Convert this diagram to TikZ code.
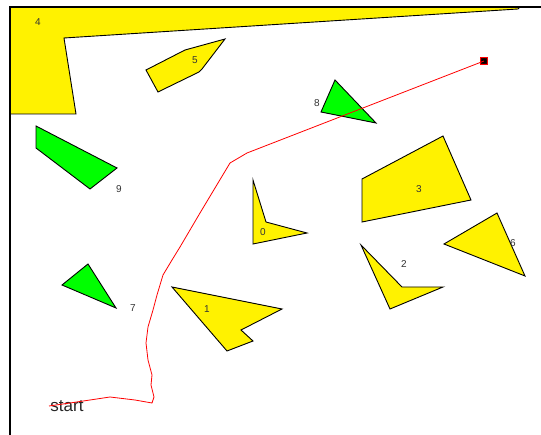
\documentclass[tikz,border=0pt]{standalone}
\usepackage{fontspec}
\setmainfont{Liberation Sans}
\begin{document}
\begin{tikzpicture}[x=1pt,y=-1pt,
  yel/.style={fill=yellow,draw=black,line width=0.9pt},
  grn/.style={fill=green,draw=black,line width=0.9pt},
  lbl/.style={font=\fontsize{10}{11}\selectfont,text=black!80,inner sep=0pt},
  route/.style={draw=red,line width=0.8pt}]
\useasboundingbox (0,0) rectangle (541,435);
\fill[white] (0,0) rectangle (541,435);
% obstacle 4 and frame
\path[yel] (10,7) -- (520,7) -- (518,9) -- (64,38) -- (76,114) -- (10,114) -- cycle;
\draw[line width=1.2pt] (541,7) -- (10,7) -- (10,435);
% obstacles
\path[yel] (146,70) -- (185,50) -- (225,39) -- (202,69) -- (199,72) -- (158,92) -- cycle;
\path[grn] (335,80) -- (321,112) -- (376,123) -- cycle;
\path[grn] (36,126) -- (36,148) -- (90,189) -- (117,168) -- cycle;
\path[yel] (253,180) -- (253,244) -- (307,233) -- (266,222) -- cycle;
\path[yel] (362,179) -- (362,222) -- (471,200) -- (443,136) -- cycle;
\path[yel] (361,245) -- (390,309) -- (443,287) -- (402,287) -- cycle;
\path[yel] (444,244) -- (525,276) -- (497,213) -- cycle;
\path[grn] (88,264) -- (62,285) -- (116,308) -- cycle;
\path[yel] (172,287) -- (227,351) -- (253,341) -- (241,330) -- (282,309) -- cycle;
% labels
\node[lbl] (l4) at (38,22) {4};
\node[lbl] (l5) at (195,60) {5};
\node[lbl] (l8) at (317,103) {8};
\node[lbl] (l9) at (119,189) {9};
\node[lbl] (l0) at (263,232) {0};
\node[lbl] (l3) at (419,189) {3};
\node[lbl] (l2) at (404,264) {2};
\node[lbl] (l6) at (513,243) {6};
\node[lbl] (l7) at (133,308) {7};
\node[lbl] (l1) at (207,309) {1};
\node[font=\fontsize{17}{19}\selectfont,text=black!85,inner sep=0pt] (start) at (67,406) {start};
% route
\coordinate (s) at (49,406);
\node[draw=red,fill=black!80!red,minimum size=7pt,inner sep=0pt,line width=0.6pt] (goal) at (484,61) {};
\fill[black] (goal.center) circle (2.6pt);
\draw[route] (s) -- (70,403) -- (90,400) -- (110,397) -- (135,400) -- (152,403) -- (154,397) -- (151,385) -- (152,375) -- (148,360) -- (146,343) -- (148,327) -- (153,310) -- (157,295) -- (163,275) -- (172,260) -- (180,247) -- (190,230) -- (200,213) -- (215,188) -- (230,163) -- (247,153) -- (goal.center);
\end{tikzpicture}
\end{document}
